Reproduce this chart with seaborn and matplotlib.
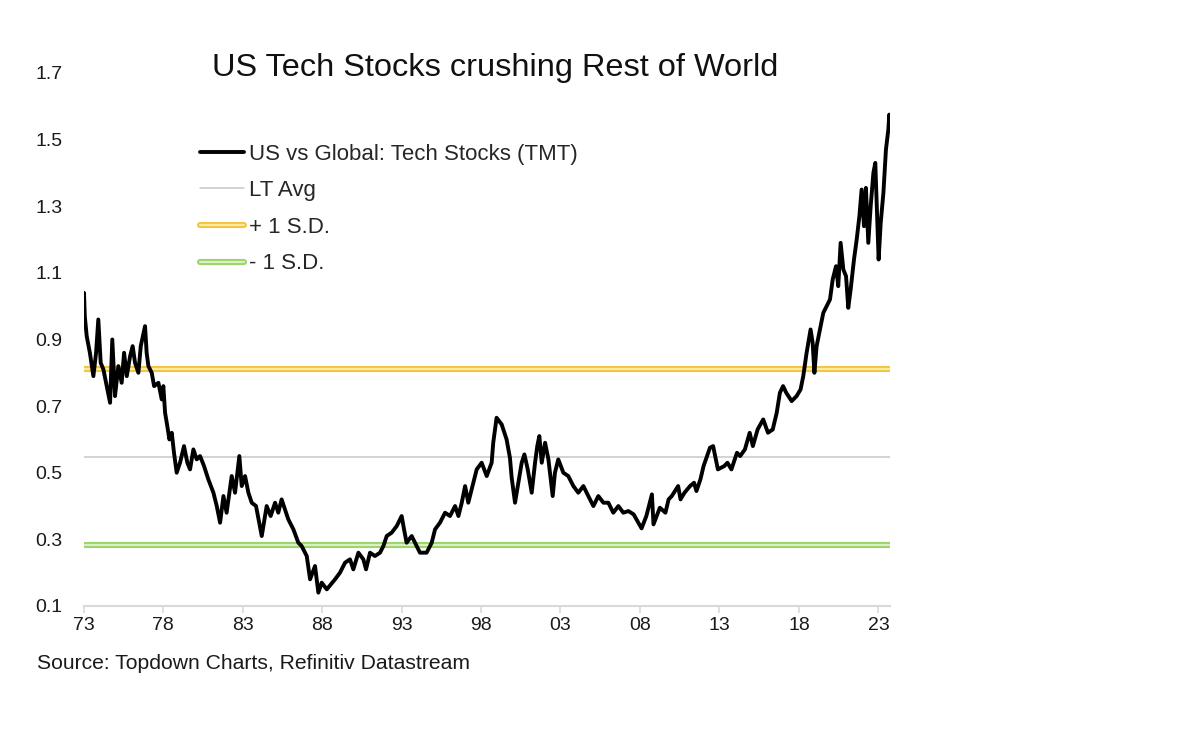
import matplotlib
matplotlib.use('Agg')
import matplotlib.pyplot as plt
import matplotlib.patheffects as pe
import seaborn as sns
import pandas as pd

# values: decimal year and US/Global ratio
years = [
    1973.00, 1973.03, 1973.08, 1973.20, 1973.40, 1973.62, 1973.79, 1973.93, 1974.08, 1974.25,
    1974.46, 1974.67, 1974.81, 1974.98, 1975.19, 1975.40, 1975.55, 1975.72, 1975.93, 1976.09,
    1976.24, 1976.45, 1976.60, 1976.87, 1976.97, 1977.08, 1977.29, 1977.44, 1977.71, 1977.92,
    1978.02, 1978.13, 1978.27, 1978.40, 1978.55, 1978.69, 1978.86, 1979.07, 1979.32, 1979.53,
    1979.70, 1979.91, 1980.12, 1980.33, 1980.58, 1980.85, 1981.17, 1981.38, 1981.59, 1981.80,
    1982.00, 1982.32, 1982.53, 1982.80, 1982.95, 1983.16, 1983.37, 1983.58, 1983.85, 1984.21,
    1984.52, 1984.77, 1985.05, 1985.25, 1985.46, 1985.67, 1985.88, 1986.20, 1986.51, 1986.72,
    1987.04, 1987.25, 1987.56, 1987.77, 1987.98, 1988.30, 1988.82, 1989.13, 1989.45, 1989.76,
    1989.97, 1990.29, 1990.60, 1990.77, 1991.02, 1991.33, 1991.65, 1991.86, 1992.07, 1992.38,
    1992.70, 1993.01, 1993.16, 1993.32, 1993.64, 1993.85, 1994.16, 1994.58, 1994.90, 1995.11,
    1995.42, 1995.74, 1996.05, 1996.37, 1996.58, 1996.79, 1997.00, 1997.20, 1997.41, 1997.73,
    1998.04, 1998.36, 1998.67, 1998.77, 1998.98, 1999.30, 1999.61, 1999.82, 1999.93, 2000.14,
    2000.35, 2000.56, 2000.73, 2000.94, 2001.19, 2001.40, 2001.54, 2001.67, 2001.82, 2002.03,
    2002.24, 2002.51, 2002.65, 2002.86, 2003.18, 2003.49, 2003.81, 2004.12, 2004.44, 2004.75,
    2005.07, 2005.38, 2005.70, 2006.01, 2006.32, 2006.64, 2006.95, 2007.27, 2007.60, 2008.10,
    2008.40, 2008.75, 2008.85, 2009.25, 2009.60, 2009.80, 2010.00, 2010.40, 2010.55, 2010.80,
    2011.15, 2011.40, 2011.55, 2011.80, 2012.00, 2012.40, 2012.60, 2012.90, 2013.30, 2013.50,
    2013.75, 2014.10, 2014.30, 2014.60, 2014.90, 2015.10, 2015.40, 2015.75, 2016.05, 2016.35,
    2016.60, 2016.80, 2017.00, 2017.20, 2017.54, 2017.85, 2018.10, 2018.27, 2018.48, 2018.73,
    2018.86, 2018.97, 2019.11, 2019.32, 2019.53, 2019.74, 2019.95, 2020.12, 2020.33, 2020.47,
    2020.62, 2020.79, 2020.96, 2021.10, 2021.25, 2021.46, 2021.63, 2021.80, 2021.94, 2022.09,
    2022.21, 2022.36, 2022.51, 2022.68, 2022.80, 2022.88, 2023.01, 2023.14, 2023.31, 2023.47,
    2023.62, 2023.68, 2023.71,
]
ratio = [
    1.00, 1.04, 0.97, 0.91, 0.86, 0.79, 0.86, 0.96, 0.83, 0.81,
    0.76, 0.71, 0.90, 0.73, 0.82, 0.77, 0.86, 0.79, 0.85, 0.88,
    0.83, 0.80, 0.88, 0.94, 0.86, 0.82, 0.80, 0.76, 0.77, 0.72,
    0.76, 0.68, 0.64, 0.60, 0.62, 0.56, 0.50, 0.53, 0.58, 0.53,
    0.51, 0.57, 0.54, 0.55, 0.52, 0.48, 0.44, 0.40, 0.35, 0.43,
    0.38, 0.49, 0.44, 0.55, 0.46, 0.49, 0.44, 0.41, 0.40, 0.31,
    0.40, 0.37, 0.41, 0.38, 0.42, 0.39, 0.36, 0.33, 0.29, 0.28,
    0.25, 0.18, 0.22, 0.14, 0.17, 0.15, 0.18, 0.20, 0.23, 0.24,
    0.21, 0.26, 0.24, 0.21, 0.26, 0.25, 0.26, 0.28, 0.31, 0.32,
    0.34, 0.37, 0.33, 0.29, 0.31, 0.29, 0.26, 0.26, 0.29, 0.33,
    0.35, 0.38, 0.37, 0.40, 0.37, 0.41, 0.46, 0.41, 0.45, 0.51,
    0.53, 0.49, 0.53, 0.59, 0.665, 0.645, 0.60, 0.545, 0.485, 0.41,
    0.47, 0.53, 0.555, 0.51, 0.44, 0.53, 0.58, 0.61, 0.53, 0.59,
    0.54, 0.43, 0.50, 0.54, 0.50, 0.49, 0.46, 0.44, 0.46, 0.43,
    0.40, 0.43, 0.41, 0.41, 0.38, 0.40, 0.38, 0.385, 0.375, 0.333,
    0.37, 0.435, 0.345, 0.395, 0.38, 0.42, 0.43, 0.46, 0.42, 0.44,
    0.46, 0.47, 0.445, 0.48, 0.52, 0.575, 0.58, 0.51, 0.52, 0.53,
    0.51, 0.56, 0.55, 0.57, 0.62, 0.58, 0.63, 0.66, 0.62, 0.63,
    0.68, 0.74, 0.76, 0.74, 0.715, 0.73, 0.75, 0.79, 0.86, 0.93,
    0.89, 0.80, 0.88, 0.93, 0.98, 1.00, 1.02, 1.08, 1.12, 1.06,
    1.19, 1.11, 1.09, 0.995, 1.05, 1.14, 1.20, 1.27, 1.35, 1.24,
    1.355, 1.19, 1.30, 1.40, 1.43, 1.32, 1.14, 1.25, 1.34, 1.47,
    1.53, 1.575, 1.53,
]
lt_avg = 0.547
plus_sd = 0.812
minus_sd = 0.283

x_ticks = [1973, 1978, 1983, 1988, 1993, 1998, 2003, 2008, 2013, 2018, 2023]
x_labels = ['73', '78', '83', '88', '93', '98', '03', '08', '13', '18', '23']
y_ticks = [0.1, 0.3, 0.5, 0.7, 0.9, 1.1, 1.3, 1.5, 1.7]

df = pd.DataFrame({'year': years, 'ratio': ratio})

sns.set_style('white')
plt.rcParams['font.family'] = ['Liberation Sans', 'DejaVu Sans']

fig = plt.figure(figsize=(12, 7.34), dpi=100)
ax = fig.add_axes([0.0696, 0.1744, 0.672, 0.7262])

sns.lineplot(data=df, x='year', y='ratio', ax=ax, color='black', linewidth=2.8,
             label='US vs Global: Tech Stocks (TMT)', zorder=5)
ax.axhline(lt_avg, color='#c8c8c8', linewidth=1.1, label='LT Avg', zorder=2)
ax.axhline(plus_sd, color='#fde9a0', linewidth=1.5, label='+ 1 S.D.', zorder=3,
           path_effects=[pe.Stroke(linewidth=4.4, foreground='#f2c640'), pe.Normal()])
ax.axhline(minus_sd, color='#d8f0c2', linewidth=1.5, label='- 1 S.D.', zorder=3,
           path_effects=[pe.Stroke(linewidth=4.4, foreground='#9cd46c'), pe.Normal()])

ax.set_xlim(1973, 2023.72)
ax.set_ylim(0.1, 1.7)
ax.set_xticks(x_ticks)
ax.set_xticklabels(x_labels)
ax.set_yticks(y_ticks)
ax.set_yticklabels([f'{v:.1f}' for v in y_ticks])
ax.set_xlabel('')
ax.set_ylabel('')

for s in ['top', 'right', 'left']:
    ax.spines[s].set_visible(False)
ax.spines['bottom'].set_color('#d9d9d9')
ax.spines['bottom'].set_linewidth(1.5)
ax.tick_params(axis='x', direction='out', length=5, width=1.2, color='#d9d9d9',
               labelsize=14, labelcolor='#1a1a1a', pad=3, bottom=True)
ax.tick_params(axis='y', length=0, labelsize=14, labelcolor='#1a1a1a', pad=15)

leg = ax.legend(loc='upper left', bbox_to_anchor=(0.133, 0.884), frameon=False,
                fontsize=16, handlelength=2.0, handletextpad=0.2, labelspacing=0.7,
                borderaxespad=0)

fig.text(0.4125, 0.907, 'US Tech Stocks crushing Rest of World', ha='center', va='center',
         fontsize=23.4, color='#111111')
fig.text(0.031, 0.0967, 'Source: Topdown Charts, Refinitiv Datastream', ha='left', va='center',
         fontsize=15.2, color='#1a1a1a')

fig.savefig('out.png', dpi=100)
